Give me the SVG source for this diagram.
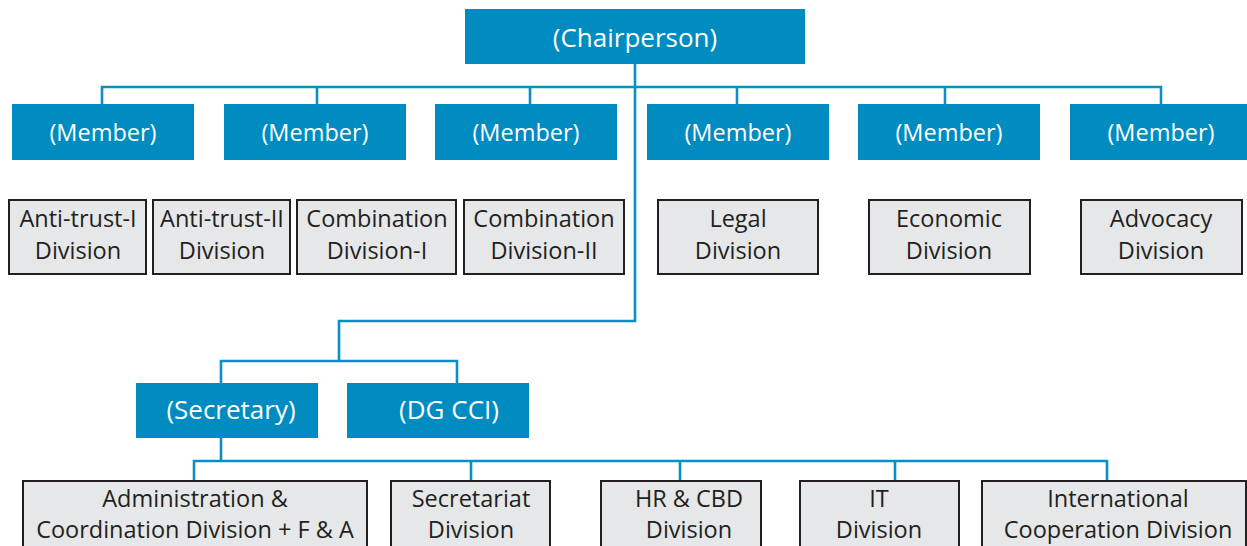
<svg xmlns="http://www.w3.org/2000/svg" width="1247" height="546" viewBox="0 0 1247 546">
<style>
.blue{fill:#008bc1}
.grey{fill:#e6e7e8;stroke:#231f20;stroke-width:2}
.wt{fill:#ffffff;font-family:"Open Sans","Liberation Sans",sans-serif;text-anchor:middle}
.dt{fill:#231f20;font-family:"Open Sans","Liberation Sans",sans-serif;font-size:23.5px;text-anchor:middle}
.m{font-size:23.5px}
.big{font-size:26px}
.conn{fill:none;stroke:#0a8fc5;stroke-width:2.6}
</style>
<rect width="1247" height="546" fill="#ffffff"/>
<g id="connectors">
<path class="conn" d="M635,64 V321 H339 V361"/>
<path class="conn" d="M102,104 V87 H1161 V104"/>
<path class="conn" d="M317,87 V104 M530,87 V104 M737,87 V104 M945,87 V104"/>
<path class="conn" d="M221,383 V361 H457 V383"/>
<path class="conn" d="M221,438 V461"/>
<path class="conn" d="M194,480 V461 H1107 V480"/>
<path class="conn" d="M471,461 V480 M680,461 V480 M895,461 V480"/>
</g>
<g id="chairperson"><rect class="blue" x="465" y="9" width="340" height="55"/><text class="wt big" x="635" y="47">(Chairperson)</text></g>
<g id="member1"><rect class="blue" x="12" y="104" width="182" height="56"/><text class="wt m" x="103" y="141">(Member)</text></g>
<g id="member2"><rect class="blue" x="224" y="104" width="182" height="56"/><text class="wt m" x="315" y="141">(Member)</text></g>
<g id="member3"><rect class="blue" x="435" y="104" width="182" height="56"/><text class="wt m" x="526" y="141">(Member)</text></g>
<g id="member4"><rect class="blue" x="647" y="104" width="182" height="56"/><text class="wt m" x="738" y="141">(Member)</text></g>
<g id="member5"><rect class="blue" x="858" y="104" width="182" height="56"/><text class="wt m" x="949" y="141">(Member)</text></g>
<g id="member6"><rect class="blue" x="1070" y="104" width="182" height="56"/><text class="wt m" x="1161" y="141">(Member)</text></g>
<g id="antitrust1"><rect class="grey" x="9" y="200" width="137" height="74"/><text class="dt" x="78" y="227">Anti-trust-I</text><text class="dt" x="78" y="259">Division</text></g>
<g id="antitrust2"><rect class="grey" x="153" y="200" width="137" height="74"/><text class="dt" x="222" y="227">Anti-trust-II</text><text class="dt" x="222" y="259">Division</text></g>
<g id="combination1"><rect class="grey" x="297" y="200" width="159" height="74"/><text class="dt" x="377" y="227">Combination</text><text class="dt" x="377" y="259">Division-I</text></g>
<g id="combination2"><rect class="grey" x="464" y="200" width="160" height="74"/><text class="dt" x="544" y="227">Combination</text><text class="dt" x="544" y="259">Division-II</text></g>
<g id="legal"><rect class="grey" x="658" y="200" width="160" height="74"/><text class="dt" x="738" y="227">Legal</text><text class="dt" x="738" y="259">Division</text></g>
<g id="economic"><rect class="grey" x="869" y="200" width="161" height="74"/><text class="dt" x="949" y="227">Economic</text><text class="dt" x="949" y="259">Division</text></g>
<g id="advocacy"><rect class="grey" x="1081" y="200" width="161" height="74"/><text class="dt" x="1161" y="227">Advocacy</text><text class="dt" x="1161" y="259">Division</text></g>
<g id="secretary"><rect class="blue" x="136" y="383" width="182" height="55"/><text class="wt big" x="231" y="419">(Secretary)</text></g>
<g id="dgcci"><rect class="blue" x="347" y="383" width="182" height="55"/><text class="wt big" x="449" y="419">(DG CCI)</text></g>
<g id="admin"><rect class="grey" x="23" y="481" width="344" height="80"/><text class="dt" x="195" y="507">Administration &amp;</text><text class="dt" x="195" y="538">Coordination Division + F &amp; A</text></g>
<g id="secretariat"><rect class="grey" x="391" y="481" width="159" height="80"/><text class="dt" x="471" y="507">Secretariat</text><text class="dt" x="471" y="538">Division</text></g>
<g id="hrcbd"><rect class="grey" x="601" y="481" width="160" height="80"/><text class="dt" x="689" y="507">HR &amp; CBD</text><text class="dt" x="689" y="538">Division</text></g>
<g id="it"><rect class="grey" x="800" y="481" width="159" height="80"/><text class="dt" x="879" y="507">IT</text><text class="dt" x="879" y="538">Division</text></g>
<g id="international"><rect class="grey" x="982" y="481" width="264" height="80"/><text class="dt" x="1118" y="507">International</text><text class="dt" x="1118" y="538">Cooperation Division</text></g>
</svg>
